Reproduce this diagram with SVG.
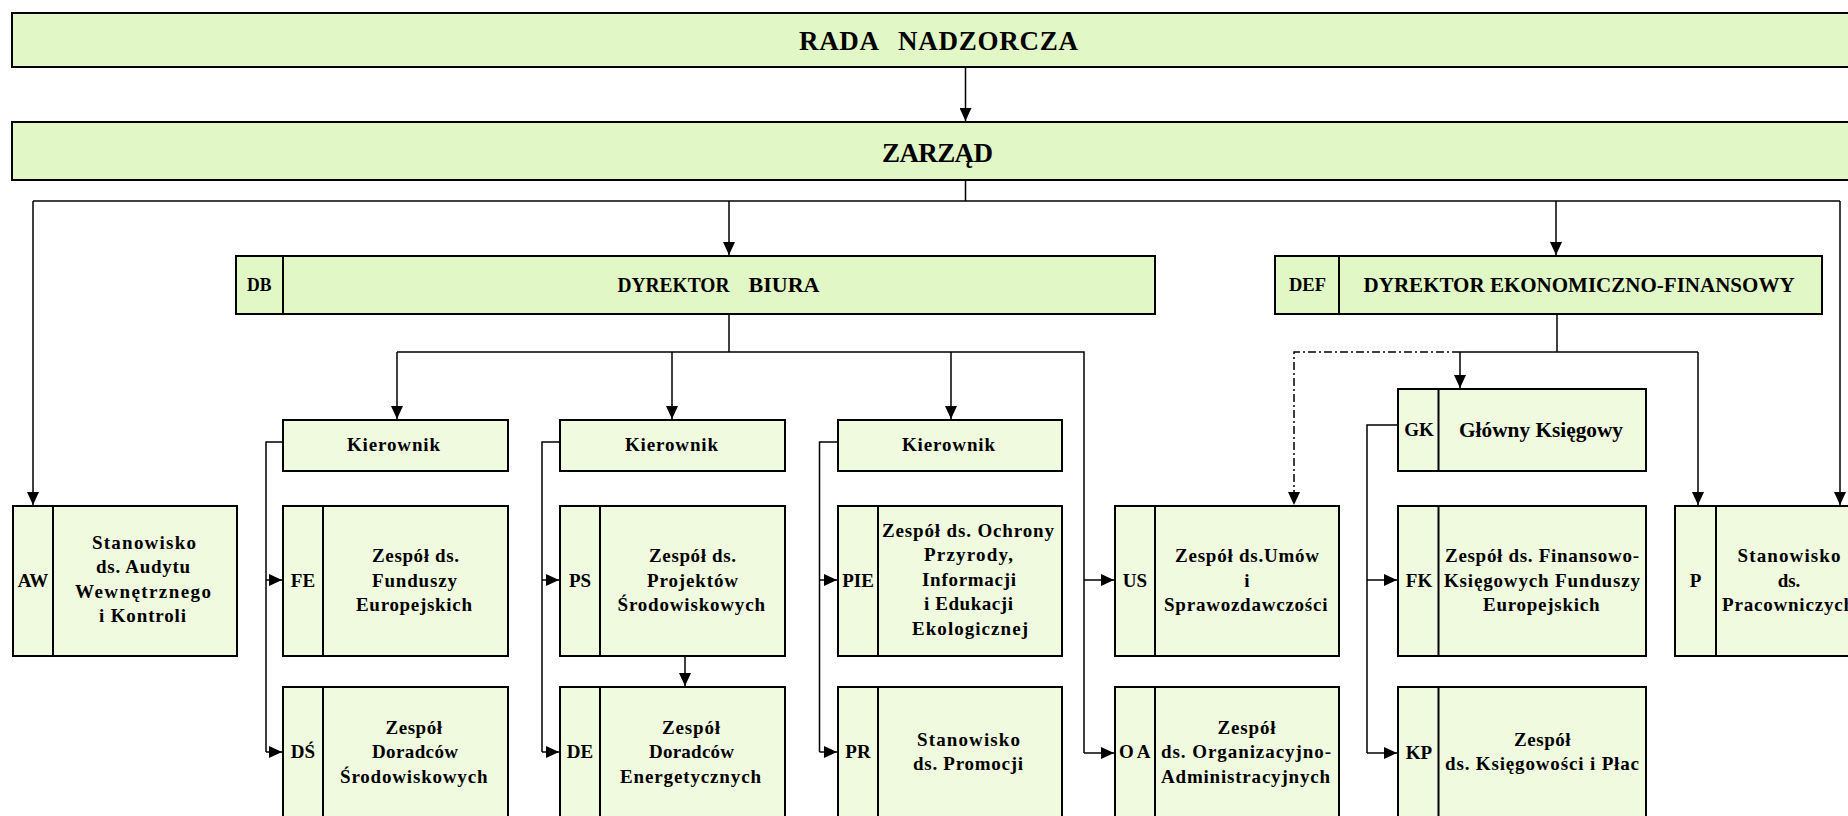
<svg xmlns="http://www.w3.org/2000/svg" width="1848" height="816" viewBox="0 0 1848 816">
<defs>
<marker id="ah" markerUnits="userSpaceOnUse" markerWidth="13" markerHeight="12" refX="13" refY="6" orient="auto"><path d="M0,0 L13,6 L0,12 z" fill="#000"/></marker>
</defs>
<style>
.top{fill:#E1F7C6;stroke:#000;stroke-width:2}
.box{fill:#EFFADF;stroke:#000;stroke-width:2}
.dv{stroke:#000;stroke-width:2}
.c{fill:none;stroke:#000;stroke-width:1.5}
.a{marker-end:url(#ah)}
.dd{stroke-dasharray:8 3 2 3}
text{font-family:"Liberation Serif","Times New Roman",serif;font-weight:bold;fill:#000}
.big{font-size:27px}
.dir{font-size:22px}
.lab{font-size:19px;text-anchor:middle}
.t{font-size:19px}
.tm{font-size:19px;text-anchor:middle}
.sm{font-size:18.5px}
</style>
<rect width="1848" height="816" fill="#fff"/>
<g id="connectors">
<path class="c a" d="M965.5,67 V121"/>
<path class="c" d="M965.5,180 V201"/>
<path class="c" d="M33,201 H1840"/>
<path class="c a" d="M33,201 V505"/>
<path class="c a" d="M729,201 V255"/>
<path class="c a" d="M1556,201 V255"/>
<path class="c a" d="M1840,201 V505"/>
<path class="c" d="M729,314 V352"/>
<path class="c" d="M397,352 H1084 V753"/>
<path class="c a" d="M397,352 V419"/>
<path class="c a" d="M672,352 V419"/>
<path class="c a" d="M951,352 V419"/>
<path class="c a" d="M1084,580 H1114"/>
<path class="c a" d="M1084,753 H1114"/>
<path class="c" d="M283,442 H266 V752"/>
<path class="c a" d="M266,580 H282"/>
<path class="c a" d="M266,752 H282"/>
<path class="c" d="M560,442 H542 V752"/>
<path class="c a" d="M542,580 H559"/>
<path class="c a" d="M542,752 H559"/>
<path class="c" d="M838,442 H819.5 V752"/>
<path class="c a" d="M819.5,580 H837"/>
<path class="c a" d="M819.5,752 H837"/>
<path class="c a" d="M685,656 V686"/>
<path class="c" d="M1557,314 V352"/>
<path class="c" d="M1460,352 H1698"/>
<path class="c a" d="M1460,352 V388"/>
<path class="c a" d="M1698,352 V505"/>
<path class="c dd a" d="M1460,352 H1294 V505"/>
<path class="c" d="M1398,425 H1367 V753"/>
<path class="c a" d="M1367,580 H1397"/>
<path class="c a" d="M1367,753 H1397"/>
</g>
<g id="rada">
<rect class="top" x="12" y="13" width="1854" height="54"/>
<text class="big" y="50"><tspan x="799" textLength="80">RADA</tspan><tspan x="898" textLength="180">NADZORCZA</tspan></text>
</g>
<g id="zarzad">
<rect class="top" x="12" y="122" width="1854" height="58"/>
<text class="big" x="882" y="162" textLength="111">ZARZĄD</text>
</g>
<g id="db">
<rect class="top" x="236" y="256" width="919" height="58"/>
<line class="dv" x1="283" y1="256" x2="283" y2="314"/>
<text class="sm" x="247" y="291" textLength="24.5" lengthAdjust="spacingAndGlyphs">DB</text>
<text class="dir" y="292"><tspan x="617.5" textLength="112" lengthAdjust="spacingAndGlyphs">DYREKTOR</tspan><tspan x="748.5" textLength="71" lengthAdjust="spacingAndGlyphs">BIURA</tspan></text>
</g>
<g id="def">
<rect class="top" x="1275" y="256" width="547" height="58"/>
<line class="dv" x1="1339" y1="256" x2="1339" y2="314"/>
<text class="sm" x="1289" y="291" textLength="37" lengthAdjust="spacingAndGlyphs">DEF</text>
<text class="dir" x="1363.6" y="292" textLength="431" lengthAdjust="spacingAndGlyphs">DYREKTOR EKONOMICZNO-FINANSOWY</text>
</g>
<g id="kier1">
<rect class="box" x="283" y="420" width="225" height="51"/>
<text class="t" x="347" y="451" textLength="93">Kierownik</text>
</g>
<g id="kier2">
<rect class="box" x="560" y="420" width="225" height="51"/>
<text class="t" x="625" y="451" textLength="93">Kierownik</text>
</g>
<g id="kier3">
<rect class="box" x="838" y="420" width="224" height="51"/>
<text class="t" x="902" y="451" textLength="93">Kierownik</text>
</g>
<g id="gk">
<rect class="box" x="1398" y="389" width="248" height="82"/>
<line class="dv" x1="1438.5" y1="389" x2="1438.5" y2="471"/>
<text class="lab" x="1419" y="436">GK</text>
<text class="dir" x="1459" y="437" textLength="164" lengthAdjust="spacingAndGlyphs">Główny Księgowy</text>
</g>
<g id="aw">
<rect class="box" x="13" y="506" width="224" height="150"/>
<line class="dv" x1="53" y1="506" x2="53" y2="656"/>
<text class="lab" x="33" y="587">AW</text>
<text class="t" x="92" y="549" textLength="104">Stanowisko</text>
<text class="t" x="96" y="573" textLength="94">ds. Audytu</text>
<text class="t" x="75" y="598" textLength="136">Wewnętrznego</text>
<text class="t" x="99" y="622" textLength="87">i Kontroli</text>
</g>
<g id="fe">
<rect class="box" x="283" y="506" width="225" height="150"/>
<line class="dv" x1="323" y1="506" x2="323" y2="656"/>
<text class="lab" x="303" y="587">FE</text>
<text class="t" x="372" y="562" textLength="87">Zespół ds.</text>
<text class="t" x="372" y="587" textLength="85">Funduszy</text>
<text class="t" x="356" y="611" textLength="116">Europejskich</text>
</g>
<g id="ds">
<rect class="box" x="283" y="687" width="225" height="150"/>
<line class="dv" x1="323" y1="687" x2="323" y2="837"/>
<text class="lab" x="303" y="758">DŚ</text>
<text class="t" x="385.5" y="734" textLength="56.5">Zespół</text>
<text class="t" x="372" y="758" textLength="86">Doradców</text>
<text class="t" x="340" y="783" textLength="147.5">Środowiskowych</text>
</g>
<g id="ps">
<rect class="box" x="560" y="506" width="225" height="150"/>
<line class="dv" x1="600" y1="506" x2="600" y2="656"/>
<text class="lab" x="580" y="587">PS</text>
<text class="t" x="649" y="562" textLength="87">Zespół ds.</text>
<text class="t" x="647" y="587" textLength="91">Projektów</text>
<text class="t" x="617.5" y="611" textLength="147.5">Środowiskowych</text>
</g>
<g id="de">
<rect class="box" x="560" y="687" width="225" height="150"/>
<line class="dv" x1="600" y1="687" x2="600" y2="837"/>
<text class="lab" x="580" y="758">DE</text>
<text class="t" x="662" y="734" textLength="58">Zespół</text>
<text class="t" x="649" y="758" textLength="85">Doradców</text>
<text class="t" x="620" y="783" textLength="141">Energetycznych</text>
</g>
<g id="pie">
<rect class="box" x="838" y="506" width="224" height="150"/>
<line class="dv" x1="878" y1="506" x2="878" y2="656"/>
<text class="lab" x="858" y="587">PIE</text>
<text class="t" x="882" y="537" textLength="172">Zespół ds. Ochrony</text>
<text class="t" x="924" y="561" textLength="89">Przyrody,</text>
<text class="t" x="922" y="586" textLength="94">Informacji</text>
<text class="t" x="924" y="610" textLength="89">i Edukacji</text>
<text class="t" x="912" y="635" textLength="116">Ekologicznej</text>
</g>
<g id="pr">
<rect class="box" x="838" y="687" width="224" height="150"/>
<line class="dv" x1="878" y1="687" x2="878" y2="837"/>
<text class="lab" x="858" y="758">PR</text>
<text class="t" x="917" y="746" textLength="103">Stanowisko</text>
<text class="t" x="913" y="770" textLength="110">ds. Promocji</text>
</g>
<g id="us">
<rect class="box" x="1115" y="506" width="224" height="150"/>
<line class="dv" x1="1155" y1="506" x2="1155" y2="656"/>
<text class="lab" x="1135" y="587">US</text>
<text class="t" x="1175" y="562" textLength="144">Zespół ds.Umów</text>
<text class="tm" x="1247" y="587">i</text>
<text class="t" x="1164" y="611" textLength="163.5">Sprawozdawczości</text>
</g>
<g id="oa">
<rect class="box" x="1115" y="687" width="224" height="150"/>
<line class="dv" x1="1155" y1="687" x2="1155" y2="837"/>
<text class="t" x="1119" y="758" textLength="31.6">OA</text>
<text class="t" x="1217.5" y="734" textLength="58">Zespół</text>
<text class="t" x="1161" y="758" textLength="170">ds. Organizacyjno-</text>
<text class="t" x="1161" y="783" textLength="169">Administracyjnych</text>
</g>
<g id="fk">
<rect class="box" x="1398" y="506" width="248" height="150"/>
<line class="dv" x1="1438.5" y1="506" x2="1438.5" y2="656"/>
<text class="lab" x="1419" y="587">FK</text>
<text class="t" x="1445" y="562" textLength="194">Zespół ds. Finansowo-</text>
<text class="t" x="1444" y="587" textLength="196">Księgowych Funduszy</text>
<text class="t" x="1483" y="611" textLength="116.5">Europejskich</text>
</g>
<g id="kp">
<rect class="box" x="1398" y="687" width="248" height="150"/>
<line class="dv" x1="1438.5" y1="687" x2="1438.5" y2="837"/>
<text class="lab" x="1419" y="759">KP</text>
<text class="t" x="1514" y="746" textLength="56.6">Zespół</text>
<text class="t" x="1445" y="770" textLength="194">ds. Księgowości i Płac</text>
</g>
<g id="p">
<rect class="box" x="1675" y="506" width="190" height="150"/>
<line class="dv" x1="1716" y1="506" x2="1716" y2="656"/>
<text class="lab" x="1695.5" y="587">P</text>
<text class="t" x="1737.5" y="562" textLength="103">Stanowisko</text>
<text class="tm" x="1789" y="587">ds.</text>
<text class="t" x="1722" y="611" textLength="132">Pracowniczych</text>
</g>
</svg>
